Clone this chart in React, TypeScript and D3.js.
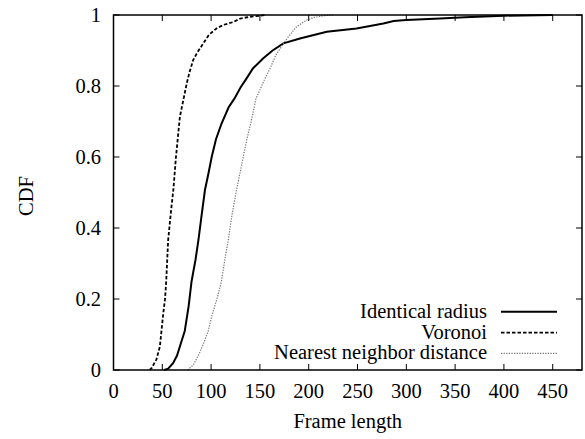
import React from "react";
import * as d3 from "d3";

const xTicks = [0, 50, 100, 150, 200, 250, 300, 350, 400, 450];
const yTicks = [0, 0.2, 0.4, 0.6, 0.8, 1];
const yTickLabels = ["0", "0.2", "0.4", "0.6", "0.8", "1"];

const identicalX = [52, 56, 61, 65, 68, 73, 77, 80, 84, 87, 90, 93.7, 97, 100.6, 105, 110.8, 118, 124, 130, 136, 143, 153.5, 163, 174, 191, 218.5, 249, 276.5, 287, 300, 334.5, 360, 400, 450];
const identicalY = [0, 0.004, 0.019, 0.04, 0.066, 0.11, 0.18, 0.25, 0.31, 0.366, 0.43, 0.507, 0.55, 0.6, 0.65, 0.695, 0.74, 0.765, 0.795, 0.82, 0.85, 0.878, 0.9, 0.92, 0.934, 0.953, 0.962, 0.976, 0.983, 0.986, 0.99, 0.994, 0.998, 1];

const voronoiX = [37, 39, 44, 47.5, 51, 52.8, 54, 56, 59, 61.3, 64, 68, 71.5, 75, 78, 81.6, 86, 92, 98, 105.5, 112.5, 122.5, 130, 139.8, 150, 155];
const voronoiY = [0, 0.005, 0.03, 0.066, 0.16, 0.2, 0.25, 0.366, 0.45, 0.507, 0.6, 0.713, 0.76, 0.807, 0.84, 0.873, 0.895, 0.92, 0.945, 0.962, 0.972, 0.98, 0.99, 0.995, 0.998, 1];

const nearestX = [76, 82, 88, 93, 97, 101, 106.5, 110.6, 114, 117.6, 121, 126, 130, 136.5, 141, 146, 150, 155, 160, 166, 174, 181, 187.7, 198, 205, 215, 225];
const nearestY = [0, 0.015, 0.047, 0.08, 0.11, 0.155, 0.205, 0.25, 0.31, 0.366, 0.43, 0.507, 0.56, 0.648, 0.7, 0.765, 0.789, 0.82, 0.847, 0.885, 0.92, 0.945, 0.967, 0.986, 0.993, 0.998, 1];

const seriesNames = ["Identical radius", "Voronoi", "Nearest neighbor distance"];

const W = 585;
const H = 439;
const left = 113.5;
const right = 582;
const top = 15;
const bottom = 370;
const font = "Liberation Serif, DejaVu Serif, Times New Roman, serif";
const fs = 20.5;
const ts: React.CSSProperties = { fontFamily: font, fontSize: fs };

export default function App() {
  const x = d3.scaleLinear().domain([0, 480]).range([left, right]);
  const y = d3.scaleLinear().domain([0, 1]).range([bottom, top]);
  const line = d3
    .line<[number, number]>()
    .x((d) => x(d[0]))
    .y((d) => y(d[1]));
  const zip = (xs: number[], ys: number[]) => xs.map((v, i) => [v, ys[i]] as [number, number]);

  const series = [
    { name: seriesNames[0], d: line(zip(identicalX, identicalY)), stroke: "#000", sw: 2, dash: undefined },
    { name: seriesNames[1], d: line(zip(voronoiX, voronoiY)), stroke: "#000", sw: 1.8, dash: "3.5,2" },
    { name: seriesNames[2], d: line(zip(nearestX, nearestY)), stroke: "#777", sw: 1.2, dash: "1.3,1.3" },
  ];
  const tl = 6;
  const legendRows = [311.7, 332.7, 353.3];

  return (
    <svg width={W} height={H} style={{ position: "absolute", left: 0, top: 0, background: "#fff" }}>
      <rect x={0} y={0} width={W} height={H} fill="#fff" />
      {xTicks.map((t) => (
        <g key={"x" + t}>
          <line x1={x(t)} x2={x(t)} y1={bottom} y2={bottom - tl} stroke="#000" strokeWidth={1} />
          <line x1={x(t)} x2={x(t)} y1={top} y2={top + tl} stroke="#000" strokeWidth={1} />
          <text x={x(t)} y={398} textAnchor="middle" style={ts} fill="#000">
            {t}
          </text>
        </g>
      ))}
      {yTicks.map((t, i) => (
        <g key={"y" + t}>
          <line x1={left} x2={left + tl} y1={y(t)} y2={y(t)} stroke="#000" strokeWidth={1} />
          <line x1={right} x2={right - tl} y1={y(t)} y2={y(t)} stroke="#000" strokeWidth={1} />
          <text x={101} y={y(t) + 7} textAnchor="end" style={ts} fill="#000">
            {yTickLabels[i]}
          </text>
        </g>
      ))}
      {series.map((s) => (
        <path key={s.name} d={s.d || ""} fill="none" stroke={s.stroke} strokeWidth={s.sw} strokeDasharray={s.dash} />
      ))}
      {series.map((s, i) => (
        <g key={"l" + s.name}>
          <text x={487} y={legendRows[i] + 6} textAnchor="end" style={ts} fill="#000">
            {s.name}
          </text>
          <line x1={501} x2={557} y1={legendRows[i]} y2={legendRows[i]} stroke={s.stroke} strokeWidth={s.sw} strokeDasharray={s.dash} />
        </g>
      ))}
      <rect x={left} y={top} width={right - left} height={bottom - top} fill="none" stroke="#000" strokeWidth={1.5} />
      <text x={(left + right) / 2} y={428} textAnchor="middle" style={ts} fill="#000">
        Frame length
      </text>
      <text transform={`translate(33,196) rotate(-90)`} textAnchor="middle" style={ts} fill="#000">
        CDF
      </text>
    </svg>
  );
}
